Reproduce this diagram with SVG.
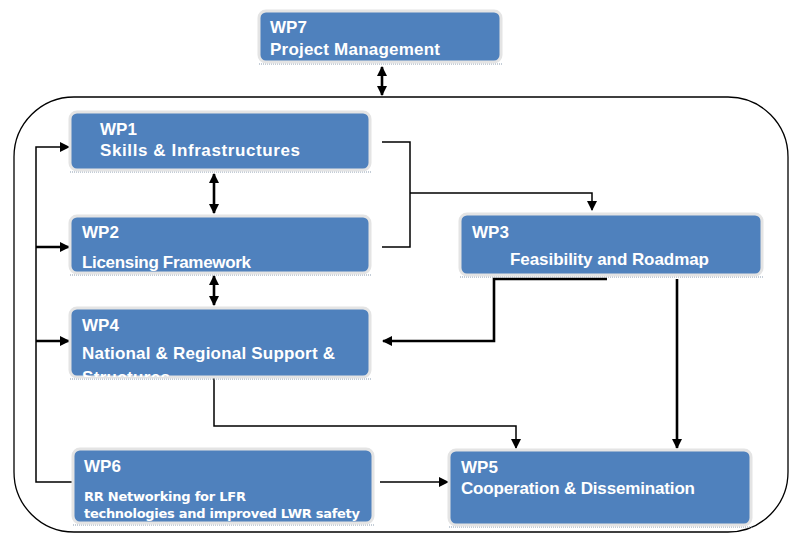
<svg xmlns="http://www.w3.org/2000/svg" width="789" height="533" viewBox="0 0 789 533">
  <style>
    .box { fill: #4f81bd; stroke: #e4e4e4; stroke-width: 3; }
    .shade { fill: none; stroke: #8a9bb0; stroke-width: 1.2; stroke-dasharray: 1 1; }
    .t { font-family: "Liberation Sans", Arial, sans-serif; font-weight: bold; font-size: 17px; fill: #ffffff; }
    .ts { font-family: "DejaVu Sans", "Liberation Sans", sans-serif; font-weight: bold; font-size: 13px; fill: #ffffff; }
    .ln { fill: none; stroke: #000; stroke-width: 1.5; }
    .lnb { fill: none; stroke: #000; stroke-width: 2.6; }
  </style>
  <defs>
    <marker id="ah" viewBox="0 0 10 10" refX="9" refY="5" markerWidth="10" markerHeight="10" markerUnits="userSpaceOnUse" orient="auto-start-reverse">
      <path d="M0,0 L10,5 L0,10 z" fill="#000"/>
    </marker>
    <clipPath id="clip4">
      <rect x="70" y="308" width="300" height="69"/>
    </clipPath>
  </defs>

  <rect width="789" height="533" fill="#ffffff"/>

  <!-- enclosing frame -->
  <rect x="14" y="97" width="774" height="435" rx="60" ry="60" fill="none" stroke="#000" stroke-width="1.3"/>

  <g id="connectors">
    <!-- WP7 <-> frame -->
    <line class="lnb" x1="382" y1="67" x2="382" y2="95" marker-start="url(#ah)" marker-end="url(#ah)"/>
    <!-- WP1 <-> WP2 -->
    <line class="lnb" x1="214" y1="174" x2="214" y2="213" marker-start="url(#ah)" marker-end="url(#ah)"/>
    <!-- WP2 <-> WP4 -->
    <line class="lnb" x1="214" y1="276" x2="214" y2="305" marker-start="url(#ah)" marker-end="url(#ah)"/>
    <!-- WP1 + WP2 bracket into WP3 -->
    <polyline class="ln" points="382,142 410,142 410,247 382,247"/>
    <polyline class="ln" points="410,193 592,193 592,210" marker-end="url(#ah)"/>
    <!-- WP3 -> WP4 -->
    <polyline class="lnb" points="607,279 494,279 494,341 383,341" marker-end="url(#ah)"/>
    <!-- WP3 -> WP5 -->
    <line class="lnb" x1="677" y1="279" x2="677" y2="448" marker-end="url(#ah)"/>
    <!-- WP4 -> WP5 -->
    <polyline class="ln" points="214,377 214,426 516,426 516,448" marker-end="url(#ah)"/>
    <!-- WP6 -> WP5 -->
    <line class="ln" x1="380" y1="482" x2="448" y2="482" marker-end="url(#ah)"/>
    <!-- WP6 feedback to WP1, WP2, WP4 -->
    <polyline class="ln" points="72,482 36,482 36,147 69,147" marker-end="url(#ah)"/>
    <line class="lnb" x1="36" y1="247" x2="69" y2="247" marker-end="url(#ah)"/>
    <line class="lnb" x1="36" y1="341" x2="69" y2="341" marker-end="url(#ah)"/>
  </g>

  <g id="wp7">
    <path class="shade" d="M259,64 H502"/>
    <rect class="box" x="259" y="11" width="242" height="51" rx="7"/>
    <text class="t" x="270" y="33">WP7</text>
    <text class="t" x="270" y="55" textLength="170">Project Management</text>
  </g>

  <g id="wp1">
    <path class="shade" d="M70,172 H371"/>
    <rect class="box" x="70" y="112" width="300" height="58" rx="7"/>
    <text class="t" x="100" y="135">WP1</text>
    <text class="t" x="100" y="156" textLength="200">Skills &amp; Infrastructures</text>
  </g>

  <g id="wp2">
    <path class="shade" d="M70,275 H371"/>
    <rect class="box" x="70" y="216" width="300" height="57" rx="7"/>
    <text class="t" x="82" y="238">WP2</text>
    <text class="t" x="82" y="268" textLength="169">Licensing Framework</text>
  </g>

  <g id="wp3">
    <path class="shade" d="M460,277 H763"/>
    <rect class="box" x="460" y="214" width="302" height="61" rx="7"/>
    <text class="t" x="472" y="238">WP3</text>
    <text class="t" x="510" y="265" textLength="199">Feasibility and Roadmap</text>
  </g>

  <g id="wp4">
    <path class="shade" d="M70,379 H371"/>
    <rect class="box" x="70" y="308" width="300" height="69" rx="7"/>
    <text class="t" x="82" y="331">WP4</text>
    <text class="t" x="82" y="359" textLength="253">National &amp; Regional Support &amp;</text>
    <text class="t" x="82" y="383" textLength="88" clip-path="url(#clip4)">Structures</text>
  </g>

  <g id="wp6">
    <path class="shade" d="M73,525 H374"/>
    <rect class="box" x="73" y="449" width="300" height="74" rx="7"/>
    <text class="t" x="84" y="472">WP6</text>
    <text class="ts" x="84" y="501" textLength="162">RR Networking for LFR</text>
    <text class="ts" x="84" y="518" textLength="276">technologies and improved LWR safety</text>
  </g>

  <g id="wp5">
    <path class="shade" d="M449,527 H752"/>
    <rect class="box" x="449" y="450" width="302" height="75" rx="7"/>
    <text class="t" x="461" y="473">WP5</text>
    <text class="t" x="461" y="494" textLength="234">Cooperation &amp; Dissemination</text>
  </g>
</svg>
